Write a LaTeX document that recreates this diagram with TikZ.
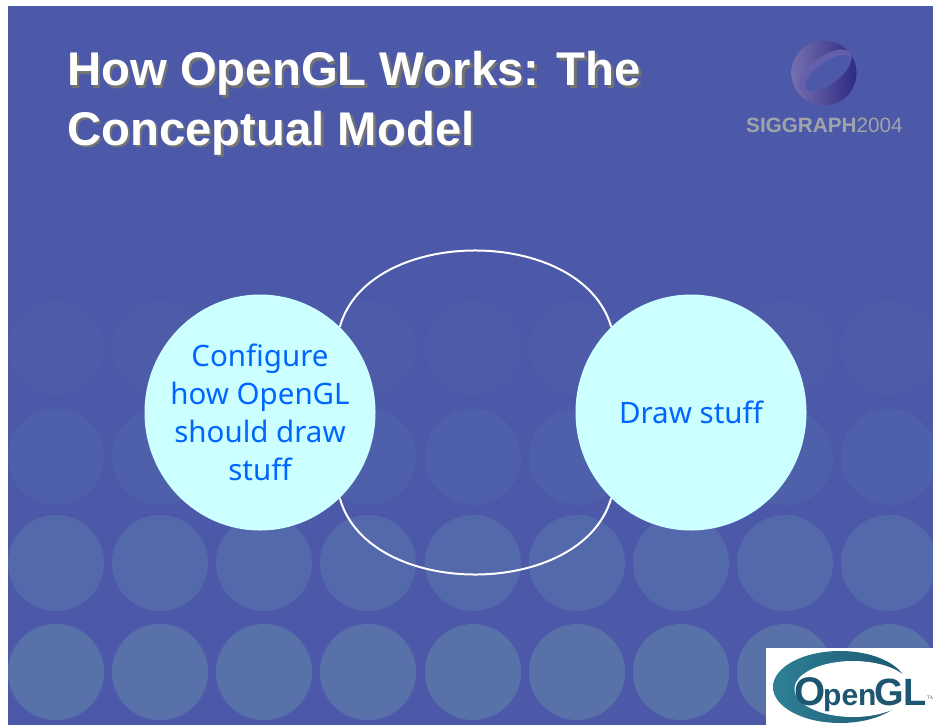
\documentclass[tikz,border=0pt]{standalone}
\usepackage{fontspec}
\setmainfont{Liberation Sans}
\newfontfamily\bodyfont{Noto Sans}
\usetikzlibrary{shapes.geometric}
\definecolor{slidebg}{HTML}{4C59A8}
\definecolor{bubble}{HTML}{CCFFFF}
\definecolor{bubbletext}{HTML}{0066FF}
\definecolor{rowa}{HTML}{4E5BA8}
\definecolor{rowb}{HTML}{4F60AA}
\definecolor{rowc}{HTML}{5469AB}
\definecolor{rowd}{HTML}{5971A9}
\definecolor{teal}{HTML}{1C5670}
\definecolor{teallight}{HTML}{2F8096}
\definecolor{sphlight}{HTML}{7570B0}
\definecolor{sphdark}{HTML}{2E2A80}
\definecolor{sphband}{HTML}{6560AA}
\definecolor{sggray}{HTML}{A0A4A8}
\tikzset{
  titletext/.style={anchor=base west,white,font=\fontsize{47.3}{60}\selectfont\bfseries,inner sep=0pt},
  titleshadow/.style={titletext,text=black!55},
  bubblenode/.style={ellipse,fill=bubble,inner sep=-15pt,align=center,text=bubbletext,
    font=\bodyfont\fontsize{29.5}{38}\selectfont,minimum width=231pt,minimum height=236pt},
  link/.style={draw=white,line width=2pt},
  logotext/.style={anchor=base west,inner sep=0pt,text=teal}
}
\begin{document}
\begin{tikzpicture}[x=1pt,y=-1pt]
\useasboundingbox (0,0) rectangle (933,725);
\fill[white] (0,0) rectangle (933,725);
\fill[slidebg] (8,6) rectangle (933,725);
% background dots
\begin{scope}
\clip (8,6) rectangle (933,725);
\foreach \cy/\col in {348/rowa,457/rowb,563/rowc,672/rowd}{
  \foreach \cx in {56,160,264,368,473,577,681,785,889}{
    \fill[\col] (\cx,\cy) circle [radius=48];
  }
}
\end{scope}
% title
\node[titleshadow] at (69.5,88) {How OpenGL Works: The};
\node[titleshadow] at (69.5,147.5) {Conceptual Model};
\node[titletext] (title1) at (67,85.5) {How OpenGL Works: The};
\node[titletext] (title2) at (67,145) {Conceptual Model};
% SIGGRAPH logo
\shade[left color=sphlight,right color=sphdark] (824,73) circle [radius=32.5];
\begin{scope}
\clip (824,73) circle [radius=32.5];
\fill[sphband,rotate around={36:(825,71)}] (825,71) ellipse (31 and 14);
\fill[slidebg,rotate around={36:(828,73)}] (828,73) ellipse (27 and 11);
\end{scope}
\node[anchor=base west,inner sep=0pt,text=sggray,font=\fontsize{20.7}{24}\selectfont] (sg) at (746,132)
  {\textbf{SIGGRAPH}2004};
% bubbles and connectors
\node[bubblenode] (left) at (260,412.5) {Configure\\how OpenGL\\should draw\\stuff};
\node[bubblenode] (right) at (691,412.5) {Draw stuff};
\draw[link] (left.47) .. controls (368,225) and (582,225) .. (right.133);
\draw[link] (left.-47) .. controls (368,600) and (582,600) .. (right.-133);
% OpenGL logo
\fill[white] (766,648) rectangle (933,725);
\shade[left color=teallight,right color=teal] (840,687) ellipse (67 and 36);
\fill[white] (853,689) ellipse (58.5 and 28);
\node[logotext,font=\fontsize{40}{40}\selectfont\bfseries] (ogl) at (794,705) {O};
\node[logotext,font=\fontsize{30}{40}\selectfont\bfseries] (pen) at (823,705) {pen};
\node[logotext,font=\fontsize{38}{40}\selectfont\bfseries] (gl) at (874,705) {GL};
\node[anchor=base west,inner sep=0pt,text=black!60,font=\fontsize{5}{6}\selectfont] (tm) at (927,699) {TM};
\end{tikzpicture}
\end{document}
